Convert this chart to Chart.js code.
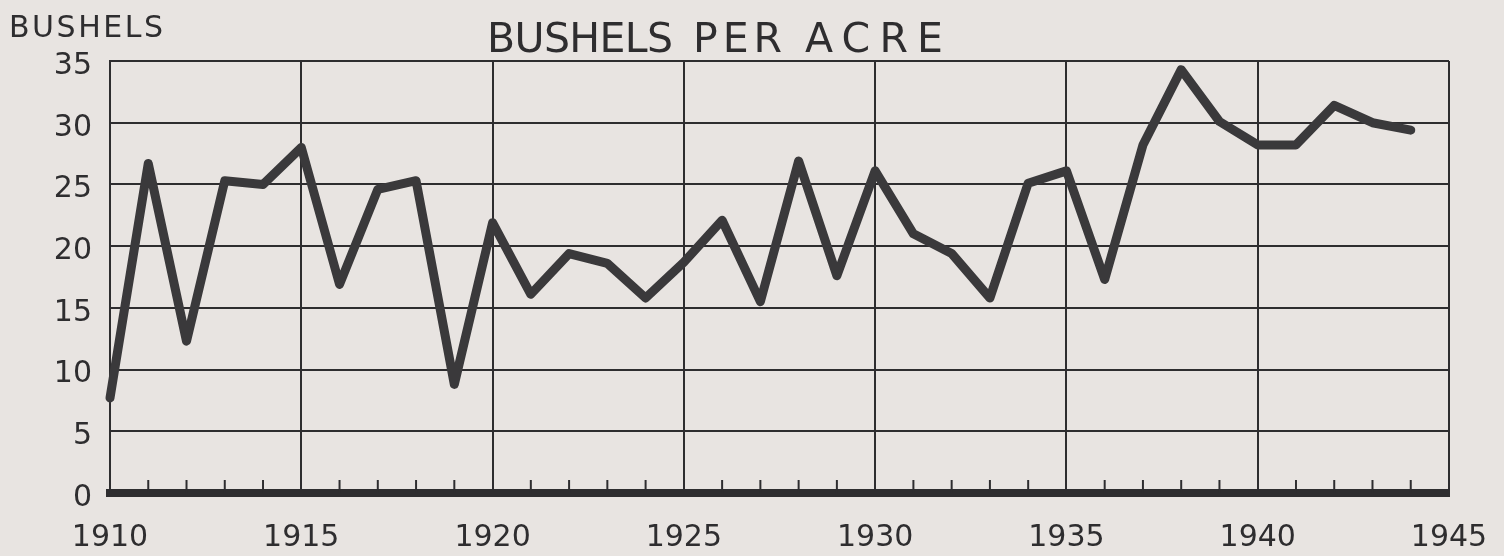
<!DOCTYPE html>
<html>
<head>
<meta charset="utf-8">
<script src="https://cdn.jsdelivr.net/npm/chart.js@4"></script>
<style>
    body { margin: 0; background: #e8e4e1; }
    #chartBox { width: 1504px; height: 556px; }
</style>
</head>
<body>
<div id="chartBox"><canvas id="yieldChart" width="1504" height="556"></canvas></div>
<script>
// yearly yield
const years = [1910, 1911, 1912, 1913, 1914, 1915, 1916, 1917, 1918, 1919,
    1920, 1921, 1922, 1923, 1924, 1925, 1926, 1927, 1928, 1929,
    1930, 1931, 1932, 1933, 1934, 1935, 1936, 1937, 1938, 1939,
    1940, 1941, 1942, 1943, 1944];
const bushelsPerAcre = [7.7, 26.7, 12.3, 25.3, 25.0, 28.0, 16.9, 24.6, 25.3, 8.8,
    21.9, 16.1, 19.4, 18.6, 15.8, 18.7, 22.1, 15.5, 26.9, 17.6,
    26.1, 21.0, 19.4, 15.8, 25.1, 26.1, 17.3, 28.2, 34.3, 30.1,
    28.2, 28.2, 31.4, 30.0, 29.4];
const yearLabels = [1910, 1915, 1920, 1925, 1930, 1935, 1940, 1945];
const yTicks = [0, 5, 10, 15, 20, 25, 30, 35];
const titleWords = ["BUSHELS", "PER", "ACRE"];
const unitLabel = "BUSHELS";

const ink = "#2e2d2f";
const paper = "#e8e4e1";
const font = "'DejaVu Sans', sans-serif";

/*
draw text so that it spans a given width, by letter spacing
*/
function drawSpaced(ctx, text, x, y, width) {
    ctx.letterSpacing = "0px";
    let w = ctx.measureText(text).width;
    let s = (width - w) / (text.length - 1);
    ctx.letterSpacing = s + "px";
    ctx.fillText(text, x, y);
    ctx.letterSpacing = "0px";
}

const paperPlugin = {
    id: "paper",
    beforeDraw(chart) {
        let ctx = chart.ctx;
        ctx.save();
        ctx.fillStyle = paper;
        ctx.fillRect(0, 0, chart.width, chart.height);
        ctx.restore();
    },
    beforeDatasetsDraw(chart) {
        // little year marks standing up from the base line
        let ctx = chart.ctx;
        let xs = chart.scales.x;
        let bottom = chart.chartArea.bottom;
        ctx.save();
        ctx.strokeStyle = ink;
        ctx.lineWidth = 2;
        years.forEach((yr) => {
            if (yr % 5 == 0) return;
            let px = xs.getPixelForValue(yr);
            ctx.beginPath();
            ctx.moveTo(px, bottom);
            ctx.lineTo(px, bottom - 13);
            ctx.stroke();
        });
        ctx.restore();
    },
    afterDraw(chart) {
        let ctx = chart.ctx;
        ctx.save();
        ctx.fillStyle = ink;
        ctx.textBaseline = "alphabetic";
        ctx.textAlign = "left";
        ctx.font = "41px " + font;
        drawSpaced(ctx, titleWords[0], 487, 52, 186);
        drawSpaced(ctx, titleWords[1], 693, 52, 89);
        drawSpaced(ctx, titleWords[2], 805, 52, 138);
        ctx.font = "30px " + font;
        drawSpaced(ctx, unitLabel, 9, 37, 154);
        ctx.restore();
    }
};

const points = years.map((yr, i) => ({ x: yr, y: bushelsPerAcre[i] }));

new Chart(document.getElementById("yieldChart"), {
    type: "line",
    data: {
        datasets: [{
            label: "Bushels per acre",
            data: points,
            borderColor: "#3a393b",
            borderWidth: 9,
            borderJoinStyle: "round",
            borderCapStyle: "round",
            pointRadius: 0,
            tension: 0,
            clip: false
        }]
    },
    options: {
        responsive: false,
        animation: false,
        layout: { padding: { top: 61, right: 55, left: 0, bottom: 0 } },
        plugins: {
            legend: { display: false },
            tooltip: { enabled: false }
        },
        scales: {
            x: {
                type: "linear",
                min: yearLabels[0],
                max: yearLabels[yearLabels.length - 1],
                afterFit: (scale) => {
                    scale.height = 63;
                    scale.paddingLeft = 0;
                    scale.paddingRight = 0;
                },
                afterBuildTicks: (scale) => {
                    scale.ticks = yearLabels.map((v) => ({ value: v }));
                },
                ticks: {
                    autoSkip: false,
                    maxRotation: 0,
                    padding: 27,
                    color: ink,
                    font: { family: font, size: 30 },
                    callback: (v) => String(v)
                },
                grid: {
                    drawTicks: false,
                    color: ink,
                    lineWidth: 2
                },
                border: { color: ink, width: 8 }
            },
            y: {
                min: 0,
                max: 35,
                afterFit: (scale) => {
                    scale.width = 110;
                    scale.paddingTop = 0;
                    scale.paddingBottom = 0;
                },
                afterBuildTicks: (scale) => {
                    scale.ticks = yTicks.map((v) => ({ value: v }));
                },
                ticks: {
                    padding: 18,
                    labelOffset: 5,
                    color: ink,
                    font: { family: font, size: 30 }
                },
                grid: {
                    drawTicks: false,
                    color: (c) => (c.tick && c.tick.value == 0 ? "rgba(0,0,0,0)" : ink),
                    lineWidth: 2
                },
                border: { color: ink, width: 2 }
            }
        }
    },
    plugins: [paperPlugin]
});
</script>
</body>
</html>
